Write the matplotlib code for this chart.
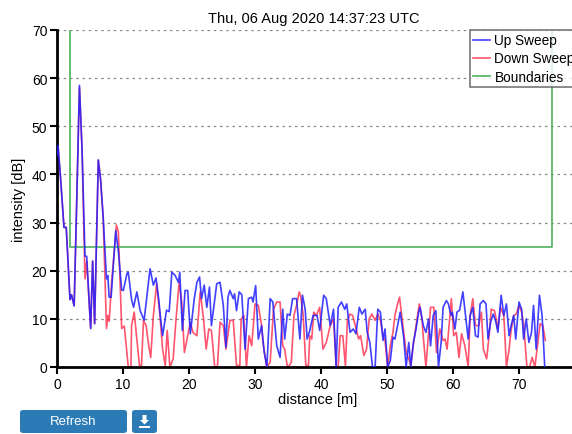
import matplotlib
matplotlib.use("Agg")
import matplotlib.pyplot as plt
from matplotlib.patches import FancyBboxPatch, Polygon, Rectangle

plt.rcParams['font.family'] = ['Liberation Sans', 'DejaVu Sans']

title = "Thu, 06 Aug 2020 14:37:23 UTC"

# Up sweep (blue) - distance [m], intensity [dB]
up_x = [0, 0.15, 0.5, 1.06, 1.4, 1.97, 2.2, 2.6, 3.0, 3.4, 3.8, 4.24, 4.5, 5.1, 5.4, 5.7,
        6.26, 6.6, 7.0, 7.5, 7.7, 7.9, 8.2, 8.9, 9.3, 9.8, 10.05, 10.6, 10.8, 11.3, 11.6,
        12.1, 12.6, 13.2, 14.1, 14.6, 15.0, 15.4, 15.7, 16.0, 16.6, 17.0, 17.4, 17.9, 18.4,
        18.6, 19.0, 19.4, 19.8, 20.2, 20.8, 21.2, 21.6, 21.9, 22.3, 22.7, 23.1, 23.4, 24.2,
        24.7, 25.2, 25.6, 25.9, 26.2, 26.7, 26.9, 27.2, 27.6, 28.0, 28.5, 29.0, 29.5, 29.7,
        30.1, 30.5, 31.0, 31.4, 31.8, 32.3, 32.7, 33.3, 33.8, 34.2, 34.5, 34.9, 35.3, 35.7,
        36.3, 36.8, 37.2, 37.6, 37.9, 38.3, 38.8, 39.4, 39.8, 40.4, 40.8, 41.4, 41.9, 42.3,
        42.6, 43.1, 43.6, 43.9, 44.4, 44.9, 45.3, 45.8, 46.2, 46.7, 47.0, 47.4, 47.8, 48.2,
        48.6, 49.0, 49.4, 49.7, 50.1, 50.5, 50.9, 51.2, 51.6, 52.0, 52.5, 52.9, 53.3, 53.6,
        54.0, 54.4, 54.8, 55.0, 55.5, 55.9, 56.3, 56.6, 57.0, 57.4, 57.8, 58.2, 58.5, 59.0,
        59.3, 59.7, 59.9, 60.3, 60.6, 61.0, 61.5, 61.9, 62.3, 62.6, 63.0, 63.4, 63.8, 64.1,
        64.6, 65.0, 65.3, 65.7, 66.1, 66.5, 66.8, 67.3, 67.7, 68.1, 68.5, 68.8, 69.2, 69.5,
        70.0, 70.4, 70.7, 71.1, 71.5, 71.9, 72.2, 72.6, 73.1, 73.5, 73.9]
up_y = [44, 46, 40, 29, 29, 14, 15, 12.7, 35, 58.5, 45, 23, 23, 8, 22, 9,
        43, 39, 31, 18.3, 19, 14.5, 14.5, 28.3, 24, 16, 15.9, 19.4, 19.7, 14, 12.4,
        15.6, 11.7, 9.7, 20.4, 17, 18.5, 14.2, 10, 6.5, 11.8, 11.5, 19.7, 19, 17.6,
        19.7, 7.6, 15.9, 15.9, 6.9, 14.2, 17.6, 18.7, 14.2, 17, 12.4, 16.6, 8.6, 17.3,
        17.6, 12.8, 4.1, 14.5, 15.9, 14.2, 15.2, 11.7, 15.6, 15, 3.7, 14.2, 14.5, 13.5,
        16.9, 5.8, 8.6, 3, 0, 14.2, 13.5, 4.4, 2, 12, 5.8, 11, 10.7, 14.2,
        14.2, 5.8, 14.9, 12, 5.8, 7.6, 10.7, 10.7, 7.6, 14.9, 14.2, 8.6, 12, 0,
        12.4, 13.5, 12, 13.1, 7.2, 7.9, 6.9, 12.4, 11, 12, 7.2, 5.1, 0, 0,
        12, 11.4, 5.5, 7.9, 0, 1.3, 6.2, 5.8, 8.6, 11.4, 6.5, 0, 5.1, 0,
        5.1, 7.9, 11.4, 12.4, 8.6, 7.2, 10, 4.4, 10.7, 11.7, 0, 5.1, 12.4, 13.8,
        13.1, 10.7, 11.4, 7.9, 11.4, 11.8, 15.6, 10.7, 5.8, 10.7, 12.4, 6.5, 6.2, 13.1,
        13.8, 13.1, 5.8, 9.3, 11, 9.3, 7.2, 14.9, 10.7, 13.1, 6.5, 8.6, 10.7, 5.8,
        13.5, 12, 5.8, 10, 5.1, 7.2, 12.8, 3.7, 14.9, 10.7, 0]

# Down sweep (red)
down_x = [0, 0.15, 0.5, 1.06, 1.4, 1.97, 2.2, 2.6, 3.0, 3.4, 3.8, 4.24, 4.5, 5.1, 5.4, 5.7,
          6.26, 6.6, 7.0, 7.5, 7.7, 7.9, 8.3, 9.0, 9.3, 9.8, 10.2, 10.8, 11.2, 11.3, 11.7,
          12.1, 12.5, 12.8, 13.1, 13.5, 13.9, 14.2, 14.6, 15.1, 15.6, 16.0, 16.4, 16.7, 17.1,
          17.6, 18.0, 18.5, 18.9, 19.3, 19.6, 20.2, 20.6, 21.2, 21.7, 22.2, 22.6, 23.0, 23.4,
          23.9, 24.3, 24.7, 25.2, 25.6, 26.2, 26.7, 27.2, 27.7, 27.9, 28.3, 28.7, 29.1, 29.5,
          30.0, 30.5, 31.0, 31.2, 31.8, 32.3, 32.8, 33.3, 33.8, 34.2, 34.5, 34.9, 35.2, 35.5,
          35.9, 36.3, 36.7, 36.9, 37.3, 37.7, 38.1, 38.3, 38.6, 38.9, 39.3, 39.8, 40.3, 40.8,
          41.4, 41.9, 42.3, 42.6, 42.9, 43.3, 43.7, 44.0, 44.4, 44.8, 45.2, 45.7, 46.0, 46.5,
          46.9, 47.3, 47.7, 48.2, 48.6, 49.0, 49.4, 49.7, 50.1, 50.5, 50.9, 51.2, 51.6, 51.9,
          52.2, 52.6, 52.9, 53.3, 53.6, 53.9, 54.4, 54.9, 55.3, 55.5, 55.9, 56.3, 56.6, 57.1,
          57.5, 58.0, 58.5, 58.8, 59.1, 59.5, 59.75, 60.1, 60.5, 60.9, 61.3, 61.8, 62.3, 62.6,
          63.0, 63.4, 63.9, 64.3, 64.6, 65.1, 65.5, 65.8, 66.3, 66.8, 67.2, 67.7, 68.1, 68.5,
          68.8, 69.2, 69.6, 70.0, 70.4, 70.7, 71.2, 71.6, 72.0, 72.4, 72.9, 73.2, 73.6, 74.0]
down_y = [41, 46, 40, 29, 29, 14, 15, 12.7, 35, 58, 45, 18.3, 22, 8, 22, 9,
          43, 39, 31, 8, 10.7, 9.5, 18, 29.5, 28, 8, 8.5, 0, 0, 8.6, 11.4,
          5.7, 0.3, 0.3, 9.7, 8.6, 4.4, 2, 10.7, 17.3, 10.7, 3.7, 0.3, 7.6, 0,
          1.7, 9.3, 17.6, 13.5, 3, 5.1, 9.3, 7.2, 6.5, 15.6, 10, 3.7, 7.9, 7.6,
          0, 0, 9.3, 8.6, 3.7, 9.7, 9.7, 0.3, 0.3, 9.9, 10.7, 0, 6.5, 4.4,
          13.1, 12.8, 8.6, 5.1, 0, 1, 12, 13.5, 13.5, 4.4, 3.7, 0, 0.3, 1,
          10.7, 12.8, 15.6, 14.9, 10.7, 0.3, 0.3, 6.5, 5.8, 11.4, 10.7, 12.4, 3.7, 5.1,
          8.6, 10, 0, 0, 6.5, 6.5, 0.3, 9.7, 11, 10.7, 8.6, 5.8, 6.5, 2.4,
          3.7, 10, 11, 9.7, 11, 9.7, 6.5, 5.5, 0, 4.4, 7.2, 10.7, 13.1, 14.5,
          11, 6.2, 3, 1.7, 0.3, 3.7, 8.6, 13.1, 10, 6.2, 0, 7.2, 12.4, 12.4,
          3, 7.9, 5.5, 5.8, 3.7, 10, 14.2, 6.5, 7.2, 2, 6.9, 4.4, 0, 10.7,
          14.2, 8.6, 8.6, 11.4, 3.7, 1.7, 6.9, 12, 11.7, 7.9, 12.4, 10.7, 0, 3.7,
          7.6, 10.7, 11, 12.8, 11.4, 9, 0, 0, 2, 0, 5.5, 9, 8.6, 5.5]

# Boundaries (green)
bound_x = [2, 2, 75, 75]
bound_y = [70, 25, 25, 70]

fig = plt.figure(figsize=(5.72, 4.35), dpi=100)
ax = fig.add_axes([57 / 572, 67 / 435, 528 / 572, 337 / 435])

ax.plot(up_x, up_y, color='#1f1fff', lw=1.2, alpha=0.85, label='Up Sweep', zorder=3)
ax.plot(down_x, down_y, color='#ff2a4a', lw=1.2, alpha=0.8, label='Down Sweep', zorder=2)
ax.plot(bound_x, bound_y, color='#5cb86a', lw=1.3, label='Boundaries', zorder=2)

ax.set_xlim(0, 80)
ax.set_ylim(0, 70)
ax.set_xticks(range(0, 80, 10))
ax.set_yticks(range(0, 80, 10))
ax.yaxis.grid(True, linestyle=(0, (2, 3)), color='#888888', lw=0.9)
ax.set_axisbelow(True)
for s in ['top', 'right']:
    ax.spines[s].set_visible(False)
for s in ['left', 'bottom']:
    ax.spines[s].set_linewidth(2)
ax.tick_params(direction='out', length=5, width=1.5, labelsize=10, pad=2)

ax.set_title(title, fontsize=10.5, pad=6, x=(314 - 57) / 528)
ax.set_xlabel('distance [m]', fontsize=10.5)
ax.xaxis.set_label_coords((318 - 57) / 528, -0.075)
ax.set_ylabel('intensity [dB]', fontsize=10.5, labelpad=4)

leg = fig.legend(loc='upper left', bbox_to_anchor=(470 / 572, 1 - 31 / 435),
                 fontsize=9.8, frameon=True, fancybox=False, borderpad=0.25,
                 handlelength=1.2, handletextpad=0.35, labelspacing=0.3,
                 borderaxespad=0)
leg.get_frame().set_edgecolor('#555555')
leg.get_frame().set_linewidth(1.2)

# buttons under the chart
btn_col = '#2c7bb6'
fig.patches.append(FancyBboxPatch((20 / 572, 1 / 435), 107 / 572, 23 / 435,
                                  boxstyle='round,pad=0,rounding_size=0.006',
                                  transform=fig.transFigure, fc=btn_col, ec='none'))
fig.text(73 / 572, 12.5 / 435, 'Refresh', color='white', fontsize=9.5,
         ha='center', va='center')
fig.patches.append(FancyBboxPatch((132 / 572, 1 / 435), 25 / 572, 23 / 435,
                                  boxstyle='round,pad=0,rounding_size=0.006',
                                  transform=fig.transFigure, fc=btn_col, ec='none'))
arrow = [(142.5, 19), (146.5, 19), (146.5, 14), (149, 14), (144.5, 9.5), (140, 14), (142.5, 14)]
fig.patches.append(Polygon([(x / 572, y / 435) for x, y in arrow], closed=True,
                           transform=fig.transFigure, fc='white', ec='none'))
fig.patches.append(Rectangle((139 / 572, 6 / 435), 11 / 572, 2 / 435,
                             transform=fig.transFigure, fc='white', ec='none'))

fig.savefig('out.png', dpi=100)
